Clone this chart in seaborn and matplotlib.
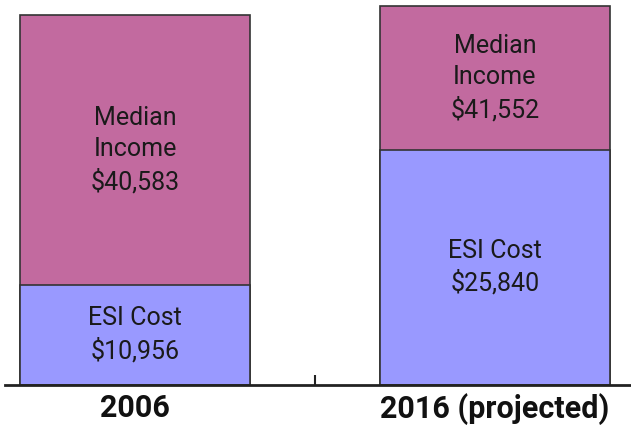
import numpy as np
import pandas as pd
import matplotlib
matplotlib.use("Agg")
import matplotlib.pyplot as plt
import seaborn as sns

sns.set_style("white")
plt.rcParams["font.family"] = ["Roboto", "DejaVu Sans"]

# data
years = ["2006", "2016 (projected)"]
median_income = [40583, 41552]
esi_cost = [10956, 25840]

df = pd.DataFrame({"year": years, "income": median_income, "esi": esi_cost})

fig = plt.figure(figsize=(6.31, 4.28), dpi=100)
ax = fig.add_axes([5 / 631, 43 / 428, 626 / 631, 385 / 428])

# income is the full bar, ESI cost sits inside it from the bottom
sns.barplot(data=df, x="year", y="income", color="#C26A9F", saturation=1,
            width=0.639, edgecolor="#333333", linewidth=1.2, ax=ax)
sns.barplot(data=df, x="year", y="esi", color="#9999FF", saturation=1,
            width=0.639, edgecolor="#333333", linewidth=1.2, ax=ax)

for i, (inc, esi) in enumerate(zip(median_income, esi_cost)):
    ax.text(i, (inc + esi) / 2, "Median\nIncome\n${:,}".format(inc),
            ha="center", va="center", fontsize=18, color="#1a1a1a",
            linespacing=1.38)
    ax.text(i, esi / 2, "ESI Cost\n${:,}".format(esi),
            ha="center", va="center", fontsize=18, color="#1a1a1a",
            linespacing=1.38)

ax.set_xlim(-0.361, 1.378)
ax.set_ylim(0, 42262)
ax.set_xlabel("")
ax.set_ylabel("")
ax.set_yticks([])
for s in ["top", "left", "right"]:
    ax.spines[s].set_visible(False)
ax.spines["bottom"].set_color("#222222")
ax.spines["bottom"].set_linewidth(2)

ax.set_xticks([0, 1])
ax.set_xticklabels(years, fontsize=22, fontweight="bold", color="#111111")
ax.tick_params(axis="x", which="major", bottom=True, length=0, pad=6)
ax.set_xticks([0.5], minor=True)
ax.tick_params(axis="x", which="minor", bottom=True, direction="in",
               length=7, width=1.5, color="#222222")

fig.savefig("out.png", dpi=100)
